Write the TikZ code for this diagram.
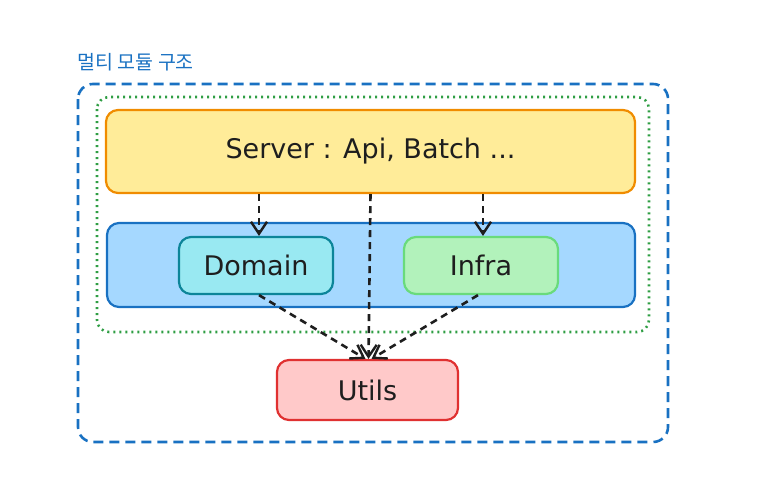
\documentclass[tikz,border=0pt]{standalone}
\usepackage{fontspec}
\setmainfont{DejaVu Sans}
\newfontfamily\krfont{Noto Sans CJK KR}
\usepackage{xcolor}
\usetikzlibrary{arrows.meta,positioning}
\definecolor{ink}{HTML}{1E1E1E}
\definecolor{frameblue}{HTML}{1971C2}
\definecolor{framegreen}{HTML}{2F9E44}
\definecolor{srvfill}{HTML}{FFEC99}
\definecolor{srvline}{HTML}{F08C00}
\definecolor{layerfill}{HTML}{A5D8FF}
\definecolor{domfill}{HTML}{99E9F2}
\definecolor{domline}{HTML}{0C8599}
\definecolor{infrafill}{HTML}{B2F2BB}
\definecolor{infraline}{HTML}{69DB7C}
\definecolor{utilfill}{HTML}{FFC9C9}
\definecolor{utilline}{HTML}{E03131}

\begin{document}
\begin{tikzpicture}[x=1pt,y=-1pt,
  box/.style={draw,line width=2.2pt,rounded corners=12pt,text=ink,
    font=\fontsize{27}{31}\selectfont,inner sep=0pt},
  dep/.style={-{Straight Barb[length=12pt,width=16pt,line width=2.4pt]},
    dash pattern=on 7pt off 5pt,line width=2.6pt,draw=ink}]
\useasboundingbox (0,0) rectangle (776,490);
% module frames
\node[text=frameblue,font=\krfont\fontsize{19.5}{23}\selectfont,anchor=west] (title) at (74,62) {멀티 모듈 구조};
\draw[frameblue,line width=2.6pt,dash pattern=on 10pt off 6pt,rounded corners=15pt] (78,84) rectangle (668,442);
\draw[framegreen,line width=2.6pt,dash pattern=on 2pt off 4pt,rounded corners=12pt] (97,97) rectangle (649,332);
% modules
\node[box,draw=srvline,fill=srvfill,minimum width=529,minimum height=83] (server) at (370.5,151.5) {Server : Api, Batch ...};
\node[box,draw=frameblue,fill=layerfill,minimum width=528,minimum height=84] (layer) at (371,265) {};
\node[box,draw=domline,fill=domfill,minimum width=154,minimum height=57] (domain) at (256,265.5) {Domain};
\node[box,draw=infraline,fill=infrafill,minimum width=154,minimum height=57] (infra) at (481,265.5) {Infra};
\node[box,draw=utilline,fill=utilfill,minimum width=181,minimum height=60] (utils) at (367.5,390) {Utils};
% dependencies
\draw[dep] ([xshift=3]server.south -| domain) -- ([xshift=3]domain.north);
\draw[dep] ([xshift=2]server.south -| infra) -- ([xshift=2]infra.north);
\draw[dep] (server.south) -- ([xshift=1]utils.north);
\draw[dep] ([xshift=3]domain.south) -- ([xshift=-2]utils.north);
\draw[dep] ([xshift=-3]infra.south) -- ([xshift=4]utils.north);
\end{tikzpicture}
\end{document}
